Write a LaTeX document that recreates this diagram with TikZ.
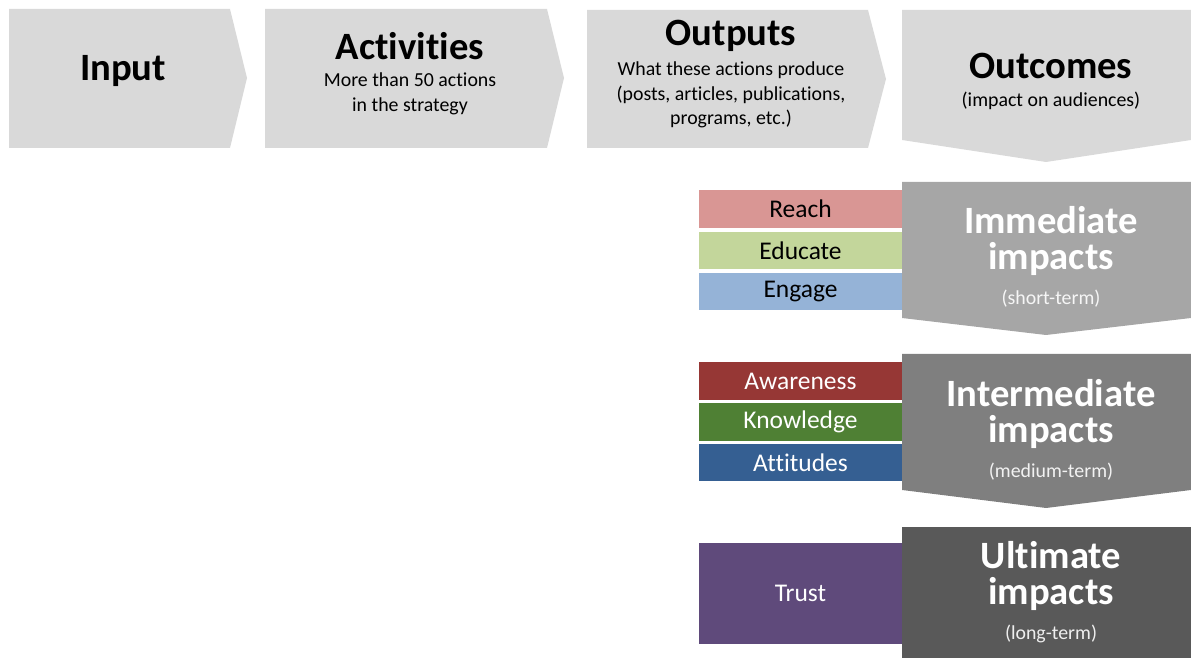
\documentclass[tikz,border=0pt]{standalone}
\usepackage{fontspec}
\setmainfont[Ligatures=NoCommon]{Carlito}
\definecolor{stepgray}{HTML}{D9D9D9}
\definecolor{shortgray}{HTML}{A6A6A6}
\definecolor{midgray}{HTML}{7F7F7F}
\definecolor{longgray}{HTML}{595959}
\definecolor{reachred}{HTML}{D99694}
\definecolor{educategreen}{HTML}{C3D69B}
\definecolor{engageblue}{HTML}{95B3D7}
\definecolor{awarered}{HTML}{963735}
\definecolor{knowgreen}{HTML}{4F8034}
\definecolor{attblue}{HTML}{355F92}
\definecolor{trustpurple}{HTML}{5F4A7B}
\begin{document}
\begin{tikzpicture}[x=0.02cm, y=-0.02cm,
    every node/.style={inner sep=0pt, align=center},
    title/.style={font=\fontsize{22}{20.5}\selectfont\bfseries},
    sub/.style={font=\fontsize{11.3}{14}\selectfont},
    tag/.style={font=\fontsize{14.5}{16}\selectfont, minimum width=4.06cm, minimum height=0.75cm}]
    \useasboundingbox (0,0) rectangle (1191,658);

    % top row
    \fill[stepgray] (9,9) -- (230,9) -- (247,78) -- (230,148) -- (9,148) -- cycle;
    \node[title] (input) at (123,71) {Input};

    \fill[stepgray] (265,9) -- (547,9) -- (564,78) -- (547,148) -- (265,148) -- cycle;
    \node[title] (act) at (410,46) {Activities};
    \node[sub] (acttxt) at (410,94) {More than 50 actions\\in the strategy};

    \fill[stepgray] (587,10) -- (868,10) -- (886,79) -- (868,148) -- (587,148) -- cycle;
    \node[title] (out) at (731,36) {Outputs};
    \node[sub] (outtxt) at (731,95) {What these actions produce\\(posts, articles, publications,\\programs, etc.)};

    \fill[stepgray] (902,10) -- (1191,10) -- (1191,140) -- (1046,162) -- (902,140) -- cycle;
    \node[title] (outc) at (1051,66) {Outcomes};
    \node[sub] (outctxt) at (1051,101) {(impact on audiences)};

    % immediate
    \fill[shortgray] (902,182) -- (1191,182) -- (1191,318) -- (1046,335) -- (902,318) -- cycle;
    \node[title, white] (imm) at (1051,241) {Immediate\\impacts};
    \node[sub, white!90!shortgray] (immtxt) at (1051,299) {(short-term)};
    \node[tag, fill=reachred] (reach) at (800.5,209) {Reach};
    \node[tag, fill=educategreen] (educate) at (800.5,250.5) {Educate};
    \node[tag, fill=engageblue] (engage) at (800.5,291.5) {Engage};

    % intermediate
    \fill[midgray] (902,354) -- (1191,354) -- (1191,490) -- (1046,508) -- (902,490) -- cycle;
    \node[title, white] (inter) at (1051,414) {Intermediate\\impacts};
    \node[sub, white!90!midgray] (intertxt) at (1051,472) {(medium-term)};
    \node[tag, fill=awarered, text=white] (aware) at (800.5,381) {Awareness};
    \node[tag, fill=knowgreen, text=white] (know) at (800.5,422) {Knowledge};
    \node[tag, fill=attblue, text=white] (att) at (800.5,462.5) {Attitudes};

    % ultimate
    \fill[longgray] (902,527) -- (1191,527) -- (1191,658) -- (902,658) -- cycle;
    \node[title, white] (ult) at (1051,576) {Ultimate\\impacts};
    \node[sub, white!90!longgray] (ulttxt) at (1051,634) {(long-term)};
    \node[tag, fill=trustpurple, text=white, minimum height=2.02cm] (trust) at (800.5,593.5) {Trust};
\end{tikzpicture}
\end{document}
